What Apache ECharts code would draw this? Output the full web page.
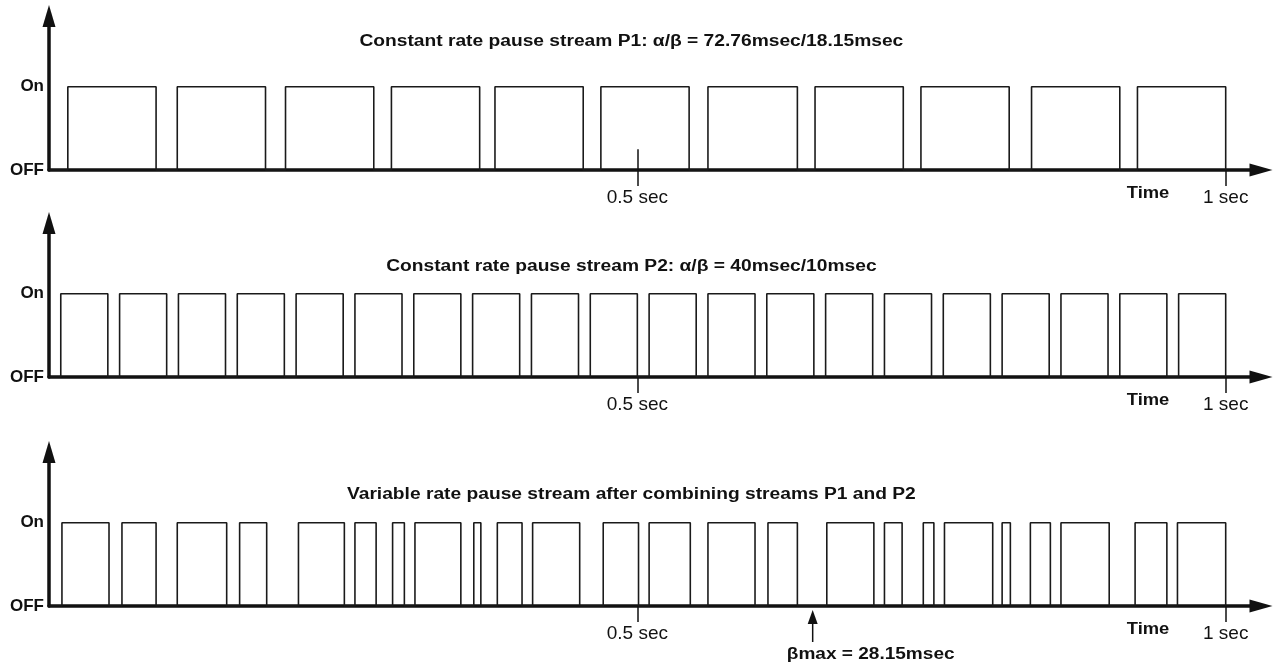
<!DOCTYPE html>
<html>
<head>
<meta charset="utf-8">
<title>Pause streams</title>
<script src="https://cdn.jsdelivr.net/npm/echarts@6/dist/echarts.min.js"></script>
<style>
  html, body { margin: 0; padding: 0; background: #fff; }
  #chart { width: 1277px; height: 671px; }
</style>
</head>
<body>
<div id="chart"></div>
<script>
// pulse edges in msec, [on, off]
const p1Pulses = [[16, 91], [109, 184], [201, 276], [291, 366], [379, 454], [469, 544],
  [560, 636], [651, 726], [741, 816], [835, 910], [925, 1000]]
const p2Pulses = [[10, 50], [60, 100], [110, 150], [160, 200], [210, 250], [260, 300],
  [310, 350], [360, 400], [410, 450], [460, 500], [510, 550], [560, 600], [610, 650],
  [660, 700], [710, 750], [760, 800], [810, 850], [860, 900], [910, 950], [960, 1000]]
const combinedPulses = [[11, 51], [62, 91], [109, 151], [162, 185], [212, 251], [260, 278],
  [292, 302], [311, 350], [361, 367], [381, 402], [411, 451], [471, 501], [510, 545],
  [560, 600], [611, 636], [661, 701], [710, 725], [743, 752], [761, 802], [810, 817],
  [834, 851], [860, 901], [923, 950], [959, 1000]]

const panelTitles = [
  'Constant rate pause stream P1: α/β = 72.76msec/18.15msec',
  'Constant rate pause stream P2: α/β = 40msec/10msec',
  'Variable rate pause stream after combining streams P1 and P2'
]
const timeTicks = [500, 1000]
const timeTickLabels = ['0.5 sec', '1 sec']
const levelTicks = [0, 1]
const levelLabels = ['OFF', 'On']
const betaMaxAt = 649
const betaMaxText = 'βmax = 28.15msec'

const FONT = 'Liberation Sans, Arial, sans-serif'
const INK = '#111'

// square wave: every pulse goes up at "on" and back down at "off"
function toSteps(pulses) {
  const pts = [[0, 0]]
  pulses.forEach(p => {
    pts.push([p[0], 0], [p[0], 1], [p[1], 1], [p[1], 0])
  })
  return pts
}

const axisTops = [16, 223, 452]
const titleYs = [42, 267, 495]
const streams = [p1Pulses, p2Pulses, combinedPulses]

const chart = echarts.init(document.getElementById('chart'))

chart.setOption({
  backgroundColor: '#fff',
  animation: false,
  grid: axisTops.map(t => ({ left: 49, right: 16, top: t, height: 154 })),
  xAxis: axisTops.map((t, i) => ({
    type: 'value',
    gridIndex: i,
    min: 0,
    max: 1030,
    splitLine: { show: false },
    axisLine: {
      onZero: false,
      symbol: ['none', 'triangle'],
      symbolSize: [13, 23],
      lineStyle: { color: INK, width: 3.5 }
    },
    axisTick: {
      customValues: timeTicks,
      length: 16,
      lineStyle: { color: INK, width: 1.5 }
    },
    axisLabel: {
      customValues: timeTicks,
      margin: 18,
      color: INK,
      fontFamily: FONT,
      fontSize: 19,
      formatter: v => timeTickLabels[timeTicks.indexOf(v)] || ''
    }
  })),
  yAxis: axisTops.map((t, i) => ({
    type: 'value',
    gridIndex: i,
    min: 0,
    max: 1.85,
    splitLine: { show: false },
    axisLine: {
      show: true,
      symbol: ['none', 'triangle'],
      symbolSize: [13, 22],
      lineStyle: { color: INK, width: 3.5 }
    },
    axisTick: { show: false },
    axisLabel: {
      customValues: levelTicks,
      margin: 5,
      color: INK,
      fontFamily: FONT,
      fontSize: 17,
      fontWeight: 'bold',
      formatter: v => levelLabels[levelTicks.indexOf(v)] || ''
    }
  })),
  series: streams.map((s, i) => ({
    type: 'line',
    xAxisIndex: i,
    yAxisIndex: i,
    data: toSteps(s),
    showSymbol: false,
    lineStyle: { color: '#1a1a1a', width: 1.6 },
    markLine: i === 0 ? {
      silent: true,
      symbol: 'none',
      label: { show: false },
      lineStyle: { color: INK, width: 1.5, type: 'solid' },
      data: [[{ coord: [500, 0] }, { coord: [500, 0.25] }]]
    } : undefined
  }))
})

// text and the βmax pointer, placed from the axes' own scales
const gfx = []
axisTops.forEach((t, i) => {
  const mid = chart.convertToPixel({ gridIndex: i }, [500, 0])
  gfx.push({
    type: 'text',
    x: mid[0] - 6,
    y: titleYs[i],
    scaleX: 1.2,
    style: {
      text: panelTitles[i], fill: INK, font: 'bold 16px ' + FONT,
      textAlign: 'center', textVerticalAlign: 'middle'
    }
  })
  const tm = chart.convertToPixel({ gridIndex: i }, [934, 0])
  gfx.push({
    type: 'text',
    x: tm[0],
    y: tm[1] + 23,
    scaleX: 1.08,
    style: {
      text: 'Time', fill: INK, font: 'bold 17px ' + FONT,
      textAlign: 'center', textVerticalAlign: 'middle'
    }
  })
})
const bm = chart.convertToPixel({ gridIndex: 2 }, [betaMaxAt, 0])
gfx.push({
  type: 'line',
  shape: { x1: bm[0], y1: bm[1] + 14, x2: bm[0], y2: bm[1] + 36 },
  style: { stroke: INK, lineWidth: 1.5 }
})
gfx.push({
  type: 'polygon',
  shape: { points: [[bm[0], bm[1] + 4], [bm[0] - 5, bm[1] + 18], [bm[0] + 5, bm[1] + 18]] },
  style: { fill: INK }
})
gfx.push({
  type: 'text',
  x: bm[0] + 58,
  y: bm[1] + 48,
  scaleX: 1.12,
  style: {
    text: betaMaxText, fill: INK, font: 'bold 17px ' + FONT,
    textAlign: 'center', textVerticalAlign: 'middle'
  }
})
chart.setOption({ graphic: gfx })
</script>
</body>
</html>
